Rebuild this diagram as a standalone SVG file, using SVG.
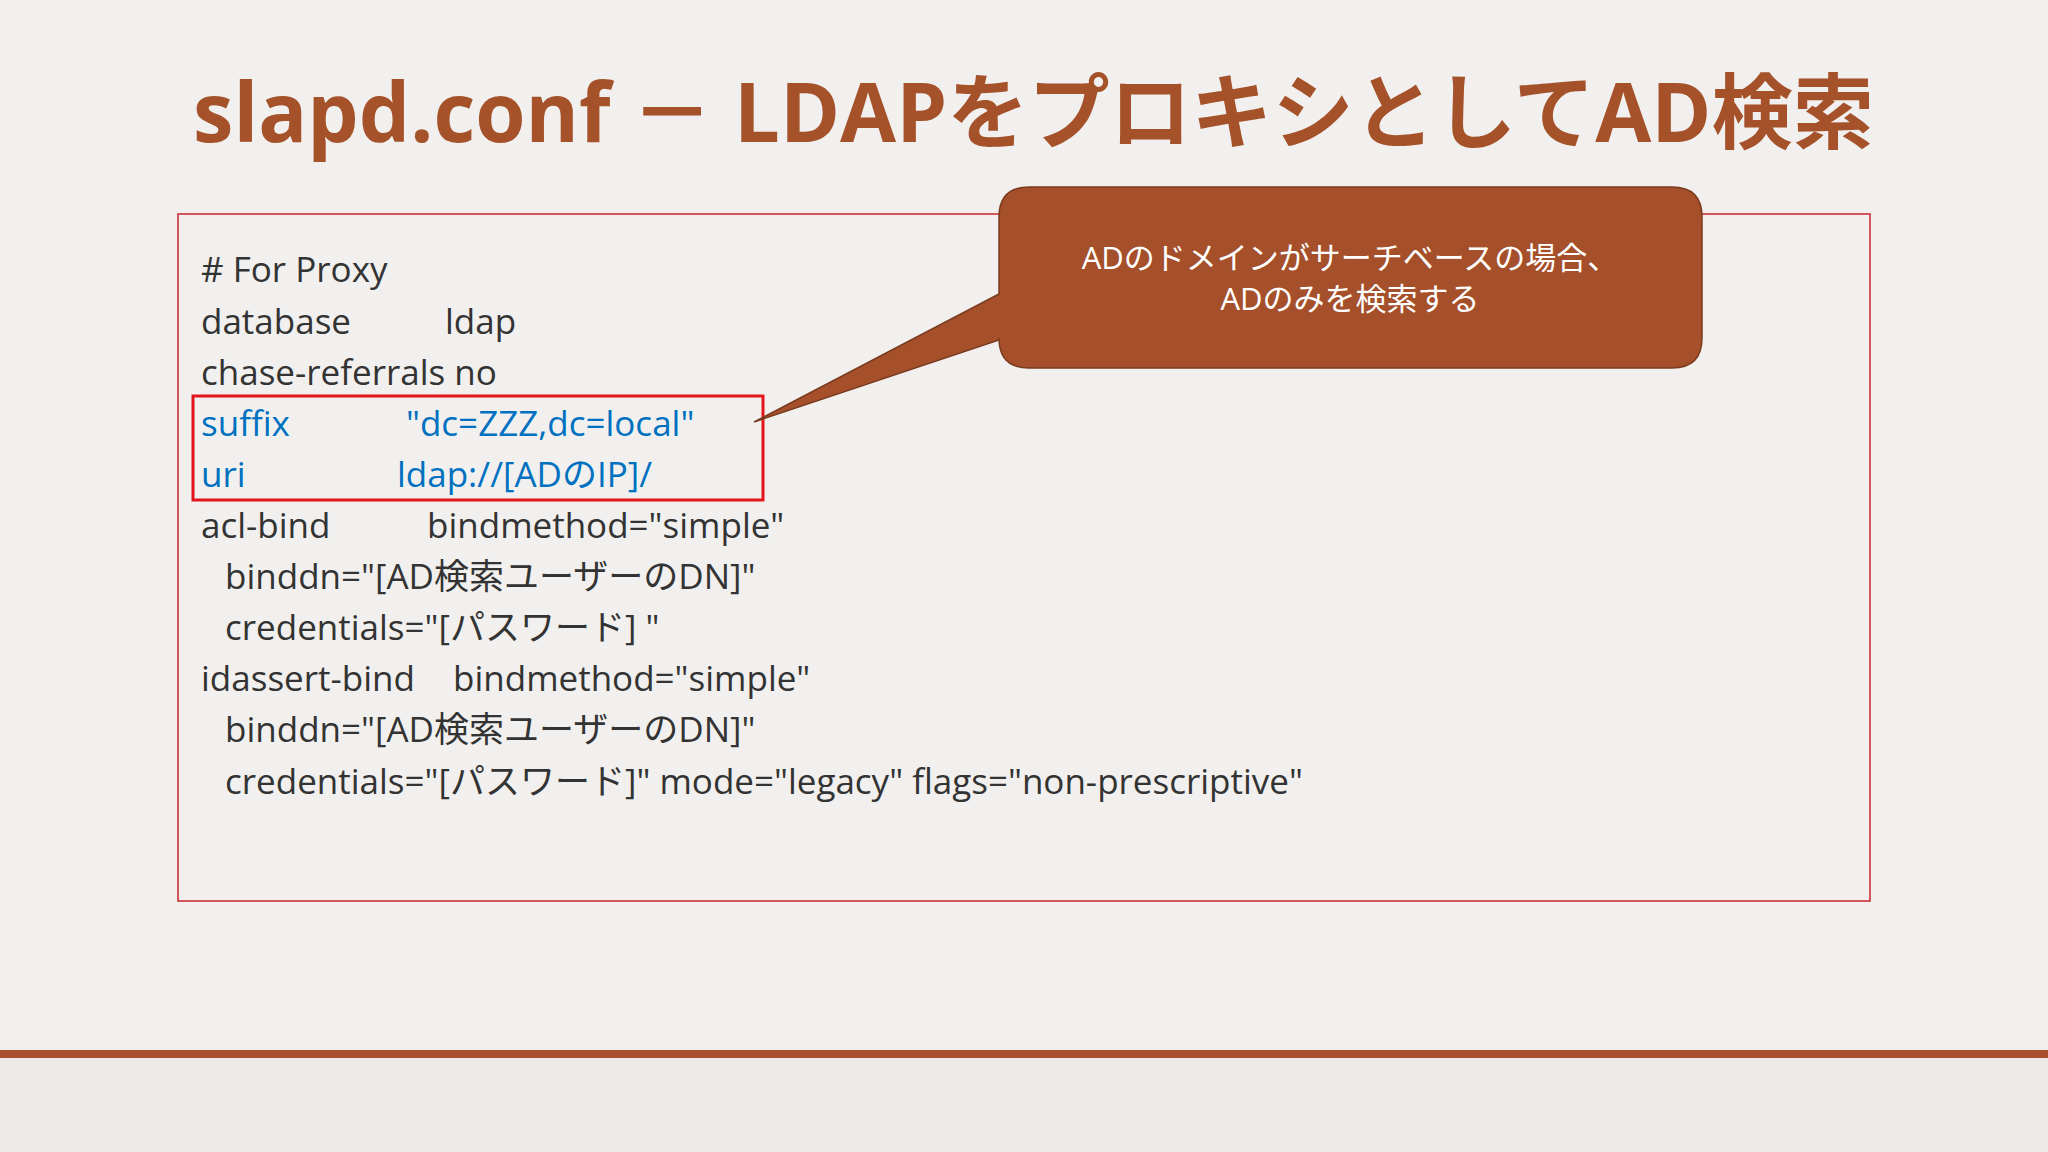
<svg xmlns="http://www.w3.org/2000/svg" width="2048" height="1152" viewBox="0 0 2048 1152">
<style>
.t{font-family:"Open Sans","Noto Sans CJK JP",sans-serif;font-size:35px;fill:#333}
.b{fill:#0070C0}
.c{font-family:"Open Sans","Noto Sans CJK JP",sans-serif;font-size:31px;fill:#fff;text-anchor:middle}
</style>
<rect width="2048" height="1152" fill="#F1F0EE"/>
<rect y="1057" width="2048" height="95" fill="#ECEBE8"/>
<rect y="1050" width="2048" height="8" fill="#A94F2B"/>
<text x="193" y="142" font-family="'Open Sans','Noto Sans CJK JP',sans-serif" font-weight="bold" font-size="82" fill="#A5522B" textLength="1681" lengthAdjust="spacingAndGlyphs">slapd.conf － LDAPをプロキシとしてAD検索</text>
<g id="codebox">
<rect x="178" y="214" width="1692" height="687" fill="none" stroke="#C8252B" stroke-width="1.5"/>
<text class="t" x="201" y="282"># For Proxy</text>
<text class="t" x="201" y="334">database</text><text class="t" x="445" y="334">ldap</text>
<text class="t" x="201" y="385">chase-referrals no</text>
<text class="t b" x="201" y="436">suffix</text><text class="t b" x="406" y="436">"dc=ZZZ,dc=local"</text>
<text class="t b" x="201" y="487">uri</text><text class="t b" x="397" y="487">ldap://[ADのIP]/</text>
<text class="t" x="201" y="538">acl-bind</text><text class="t" x="427" y="538">bindmethod="simple"</text>
<text class="t" x="225" y="589">binddn="[AD検索ユーザーのDN]"</text>
<text class="t" x="225" y="640">credentials="[パスワード] "</text>
<text class="t" x="201" y="691">idassert-bind</text><text class="t" x="453" y="691">bindmethod="simple"</text>
<text class="t" x="225" y="742">binddn="[AD検索ユーザーのDN]"</text>
<text class="t" x="225" y="794">credentials="[パスワード]" mode="legacy" flags="non-prescriptive"</text>
</g>
<g id="highlight"><rect x="193" y="396" width="570" height="104" fill="none" stroke="#E3141B" stroke-width="3"/></g>
<g id="callout">
<path d="M1029,187 H1672 Q1702,187 1702,217 V338 Q1702,368 1672,368 H1029 Q999,368 999,338 V340 L754,422 L999,294 V217 Q999,187 1029,187 Z" fill="#A5502A" stroke="#7A3A1E" stroke-width="1.5"/>
<text class="c" x="1350" y="269">ADのドメインがサーチベースの場合、</text>
<text class="c" x="1350" y="310">ADのみを検索する</text>
</g>
</svg>
